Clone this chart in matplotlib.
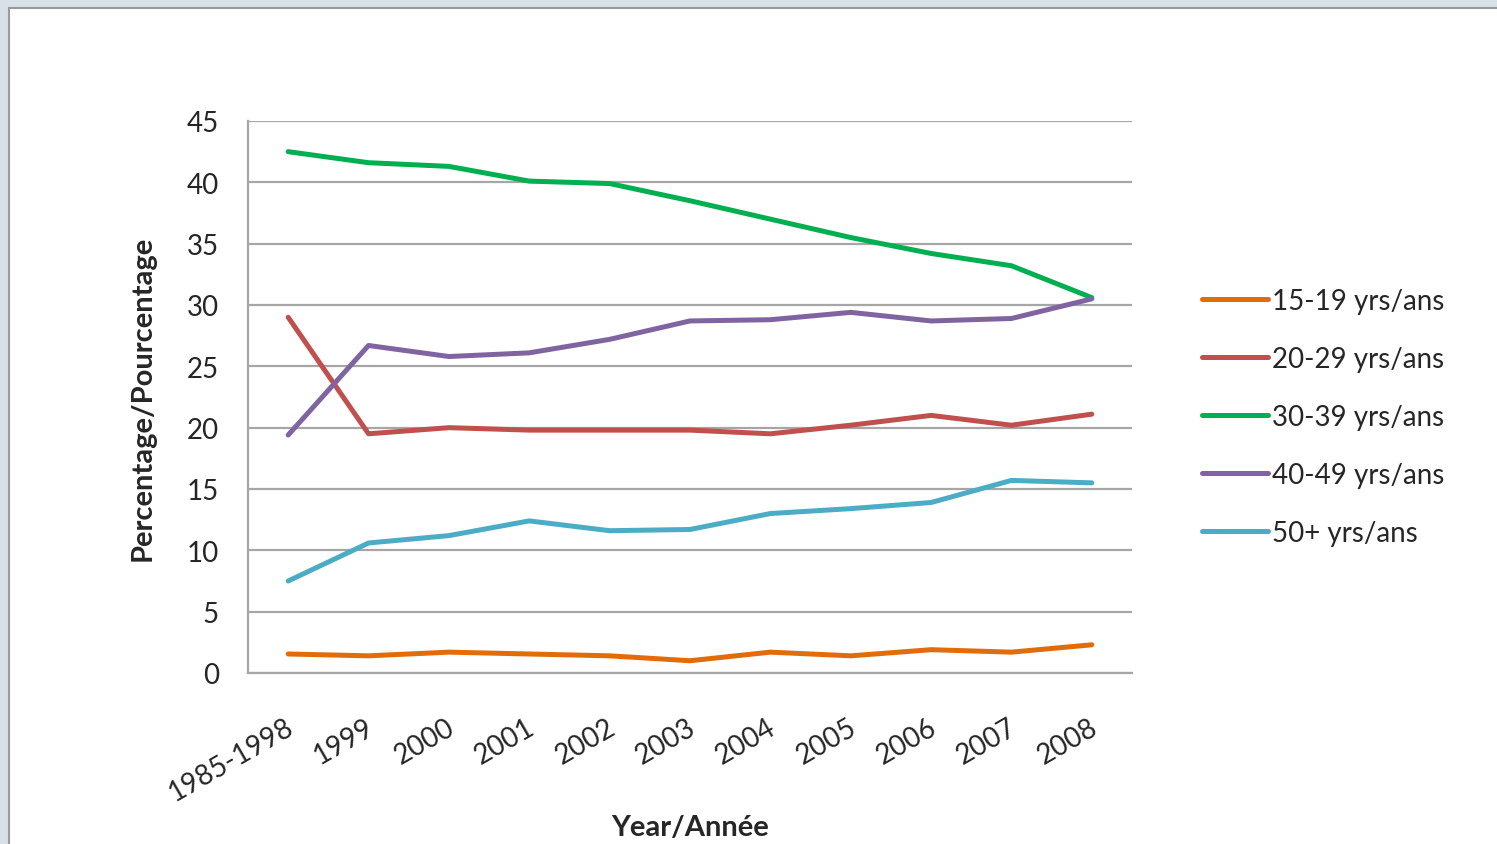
import matplotlib
matplotlib.use("Agg")
import matplotlib.pyplot as plt
from matplotlib.patches import Rectangle
from matplotlib.transforms import ScaledTranslation

# ---- data ----
years = ["1985-1998", "1999", "2000", "2001", "2002", "2003",
         "2004", "2005", "2006", "2007", "2008"]

age_15_19 = [1.55, 1.4, 1.7, 1.55, 1.4, 1.0, 1.7, 1.4, 1.9, 1.7, 2.3]
age_20_29 = [29.0, 19.5, 20.0, 19.8, 19.8, 19.8, 19.5, 20.2, 21.0, 20.2, 21.1]
age_30_39 = [42.5, 41.6, 41.3, 40.1, 39.9, 38.5, 37.0, 35.5, 34.2, 33.2, 30.6]
age_40_49 = [19.4, 26.7, 25.8, 26.1, 27.2, 28.7, 28.8, 29.4, 28.7, 28.9, 30.5]
age_50_up = [7.5, 10.6, 11.2, 12.4, 11.6, 11.7, 13.0, 13.4, 13.9, 15.7, 15.5]

series_labels = ["15-19 yrs/ans", "20-29 yrs/ans", "30-39 yrs/ans",
                 "40-49 yrs/ans", "50+ yrs/ans"]
series_colors = ["#E36C09", "#C0504D", "#00B050", "#8064A2", "#4BACC6"]

W, H = 1497, 845
fig = plt.figure(figsize=(W / 100, H / 100), dpi=100)
fig.patch.set_facecolor("#d9e1e8")

# white chart area with thin grey frame
fig.patches.append(Rectangle((9 / W, -0.01), 1.02, 1 - 9 / H + 0.01,
                             transform=fig.transFigure, facecolor="white",
                             edgecolor="#9a9a9a", linewidth=1.5, zorder=-10))

ax = fig.add_axes([248 / W, 1 - 674 / H, (1132 - 248) / W, (674 - 122) / H])
ax.set_zorder(5)
ax.set_facecolor("white")

x = list(range(len(years)))
all_series = [age_15_19, age_20_29, age_30_39, age_40_49, age_50_up]
for vals, lab, col in zip(all_series, series_labels, series_colors):
    ax.plot(x, vals, color=col, linewidth=3.6, label=lab,
            solid_capstyle="round", solid_joinstyle="round", zorder=3)

ax.set_xlim(-0.5, len(years) - 0.5)
ax.set_ylim(0, 45)
ax.set_yticks(range(0, 46, 5))
ax.yaxis.grid(True, color="#a6a6a6", linewidth=1.6)
ax.set_axisbelow(True)

for side in ["top", "right"]:
    ax.spines[side].set_visible(False)
for side in ["left", "bottom"]:
    ax.spines[side].set_color("#a6a6a6")
    ax.spines[side].set_linewidth(1.6)

font = "Lato"
txt_col = "#262626"
ax.tick_params(axis="both", length=0, colors=txt_col)
ax.tick_params(axis="y", pad=21)
ax.set_yticklabels([str(v) for v in range(0, 46, 5)], fontsize=20,
                   family=font)
ax.set_xticks(x)
ax.set_xticklabels(years, fontsize=20, family=font, rotation=30,
                   ha="right", va="top", rotation_mode="anchor")
ax.tick_params(axis="x", pad=29)
for t in ax.get_xticklabels():
    t.set_transform(t.get_transform() + ScaledTranslation(-0.03, 0, fig.dpi_scale_trans))

ax.set_ylabel("Percentage/Pourcentage", fontsize=21, fontweight="bold",
              family=font, color=txt_col, labelpad=22)
ax.set_xlabel("Year/Année", fontsize=21, fontweight="bold",
              family=font, color=txt_col, labelpad=6)

leg = ax.legend(loc="center left", bbox_to_anchor=(1202 / W, 1 - 418 / H),
                bbox_transform=fig.transFigure, frameon=False,
                borderaxespad=0, borderpad=0,
                prop={"family": font, "size": 20}, handlelength=2.37,
                handletextpad=0.15, labelspacing=1.15)
for txt in leg.get_texts():
    txt.set_color(txt_col)

fig.savefig("out.png", dpi=100, facecolor=fig.get_facecolor())
